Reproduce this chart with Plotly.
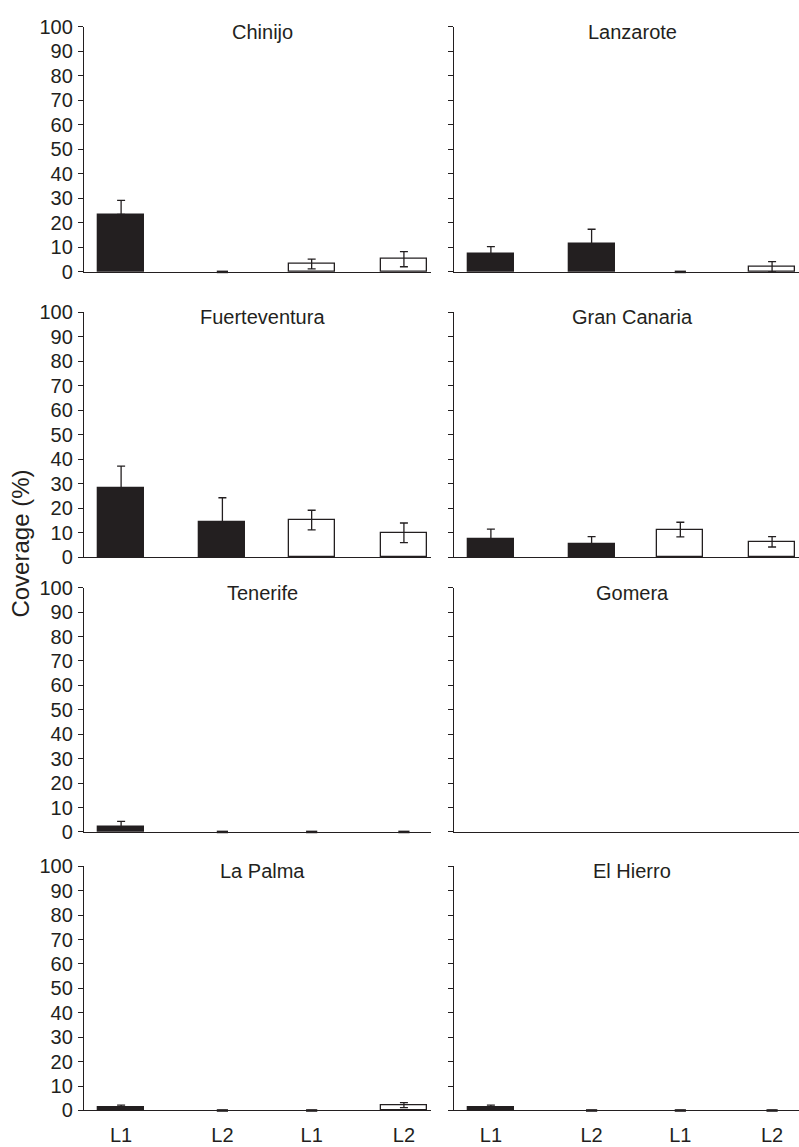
import plotly.graph_objects as go

# ---------------- data ----------------
panels = ["Chinijo", "Lanzarote", "Fuerteventura", "Gran Canaria",
          "Tenerife", "Gomera", "La Palma", "El Hierro"]
bar_labels = ["L1", "L2", "L1", "L2"]
# mean coverage (%) per panel: black L1, black L2, white L1, white L2
black_L1 = [23.4, 7.4, 28.2, 7.3, 2.2, None, 1.2, 1.2]
black_L2 = [0.0, 11.4, 14.2, 5.3, 0.0, None, 0.0, 0.0]
white_L1 = [3.2, 0.0, 15.2, 11.3, 0.0, None, 0.0, 0.0]
white_L2 = [5.2, 2.1, 10.0, 6.3, 0.0, None, 2.2, 0.0]
# standard errors
black_L1_se = [5.8, 2.9, 9.0, 4.2, 2.1, None, 1.0, 1.0]
black_L2_se = [0.0, 6.0, 10.1, 3.1, 0.0, None, 0.0, 0.0]
white_L1_se = [2.0, 0.0, 4.0, 3.0, 0.0, None, 0.0, 0.0]
white_L2_se = [3.1, 2.1, 4.0, 2.1, 0.0, None, 1.0, 0.0]
y_ticks = [0, 10, 20, 30, 40, 50, 60, 70, 80, 90, 100]

# ---------------- layout constants ----------------
W, H = 799, 1147
INK = "#231f20"
FONT = "Liberation Sans, Arial, Helvetica, sans-serif"
FS = 20
x_pos = [0.37, 1.38, 2.27, 3.19]
x_range = [0, 3.46]
col_px = [(84, 431), (454, 799)]
row_px = [(16, 266), (307, 557), (588, 837), (872, 1121)]
title_x_px = [262, 632]

fig = go.Figure()
annotations = []
for i, name in enumerate(panels):
    r, c = divmod(i, 2)
    n = i + 1
    xa = "x" if n == 1 else f"x{n}"
    ya = "y" if n == 1 else f"y{n}"
    vals = [black_L1[i], black_L2[i], white_L1[i], white_L2[i]]
    ses = [black_L1_se[i], black_L2_se[i], white_L1_se[i], white_L2_se[i]]
    minus = [0, 0, white_L1_se[i], white_L2_se[i]]
    outline_w = [1.3 if (v is not None and v > 0) else 0 for v in vals]
    fig.add_trace(go.Bar(
        x=x_pos, y=vals, width=0.46, xaxis=xa, yaxis=ya,
        marker=dict(color=[INK, INK, "white", "white"],
                    line=dict(color=INK, width=outline_w)),
        error_y=dict(type="data", array=ses, arrayminus=minus,
                     symmetric=False, color=INK, thickness=1.3, width=4,
                     visible=True),
        showlegend=False, hoverinfo="skip",
    ))
    # zero-valued means shown as a short dash on the baseline
    zx = [xp for xp, v in zip(x_pos, vals) if v == 0]
    zy = [v for v in vals if v == 0]
    if zx:
        fig.add_trace(go.Scatter(
            x=zx, y=zy, xaxis=xa, yaxis=ya, mode="markers",
            marker=dict(symbol="line-ew", size=8,
                        line=dict(color=INK, width=2.6)),
            showlegend=False, hoverinfo="skip", cliponaxis=False,
        ))
    x0, x1 = col_px[c]
    y0, y1 = row_px[r]
    xdom = [x0 / W, x1 / W]
    ydom = [1 - y1 / H, 1 - y0 / H]
    xkey = "xaxis" if n == 1 else f"xaxis{n}"
    ykey = "yaxis" if n == 1 else f"yaxis{n}"
    fig.layout[xkey] = dict(
        domain=xdom, range=x_range, anchor=ya,
        showline=True, linecolor=INK, linewidth=1.3,
        showgrid=False, zeroline=False, ticks="",
        tickmode="array", tickvals=x_pos, ticktext=bar_labels,
        showticklabels=(r == 3), ticklabelstandoff=6,
        tickfont=dict(family=FONT, size=FS, color=INK),
        fixedrange=True,
    )
    fig.layout[ykey] = dict(
        domain=ydom, range=[0, 100], anchor=xa,
        showline=True, linecolor=INK, linewidth=1.3,
        showgrid=False, zeroline=False,
        ticks="outside", ticklen=5, tickwidth=1.2, tickcolor=INK,
        tickmode="array", tickvals=y_ticks,
        showticklabels=(c == 0), ticklabelstandoff=1,
        tickfont=dict(family=FONT, size=FS, color=INK),
        fixedrange=True,
    )
    annotations.append(dict(
        text=name, x=title_x_px[c] / W, y=ydom[1], xref="paper", yref="paper",
        xanchor="center", yanchor="middle", yshift=-5, showarrow=False,
        font=dict(family=FONT, size=FS, color=INK),
    ))

annotations.append(dict(
    text="Coverage (%)", x=21 / W, y=1 - 543 / H, xref="paper", yref="paper",
    xanchor="center", yanchor="middle", textangle=-90, showarrow=False,
    font=dict(family=FONT, size=24, color=INK),
))

fig.update_layout(
    width=W, height=H,
    margin=dict(l=0, r=0, t=0, b=0),
    paper_bgcolor="white", plot_bgcolor="white",
    annotations=annotations, showlegend=False, bargap=0,
)
fig.write_html("out.html")
